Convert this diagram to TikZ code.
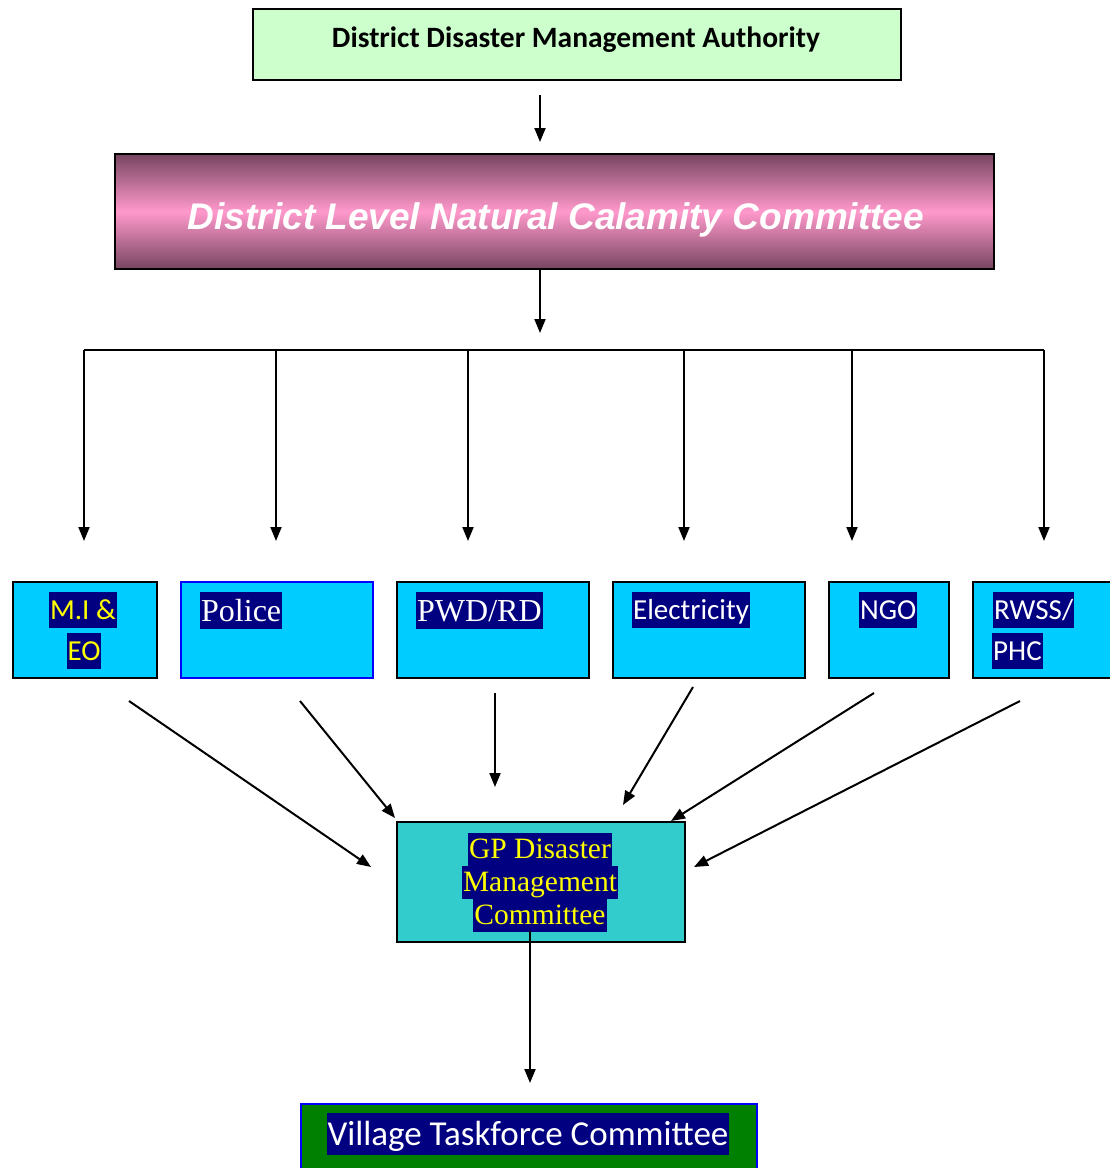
\documentclass[tikz,border=0pt]{standalone}
\usepackage{fontspec}
\setmainfont{Liberation Serif}
\newfontfamily\calfont{Carlito}
\newfontfamily\arialfont{Liberation Sans}
\usetikzlibrary{arrows.meta}
\definecolor{lightgreen}{HTML}{CCFFCC}
\definecolor{mauve}{HTML}{774560}
\definecolor{pinkmid}{HTML}{FF99CC}
\definecolor{cyanbox}{HTML}{00CCFF}
\definecolor{tealbox}{HTML}{33CCCC}
\definecolor{navyhl}{HTML}{000080}
\definecolor{greenbox}{HTML}{008000}
\definecolor{yellowtxt}{HTML}{FFFF00}
\begin{document}
\begin{tikzpicture}[x=1pt,y=-1pt,
  box/.style={draw=black, line width=2pt, anchor=north west, inner sep=0pt},
  arr/.style={-{Triangle[length=14pt,width=11pt]}, line width=2pt},
  plain/.style={line width=2pt},
  hlc/.style={fill=navyhl, inner xsep=1pt, inner ysep=0pt, text height=27pt, text depth=9pt,
    font=\calfont\fontsize{29}{34}\selectfont},
  hlt/.style={fill=navyhl, inner xsep=1pt, inner ysep=0pt, text height=29pt, text depth=8pt,
    font=\fontsize{32}{38}\selectfont, text=white},
  hlg/.style={fill=navyhl, inner xsep=1pt, inner ysep=0pt, text height=25pt, text depth=8pt,
    font=\fontsize{29.5}{34}\selectfont, text=yellowtxt},
]
\useasboundingbox (0,0) rectangle (1110,1168);

% top boxes
\node[box, fill=lightgreen, minimum width=648pt, minimum height=71pt] (ddma) at (252,8) {};
\node[font=\calfont\bfseries\fontsize{29.5}{34}\selectfont, inner sep=0pt] (ddmat) at (576,40) {District Disaster Management Authority};

\node[box, top color=mauve, bottom color=mauve, middle color=pinkmid, minimum width=879pt, minimum height=115pt] (dlncc) at (114,153) {};
\node[inner sep=0pt, text=white, font=\arialfont\bfseries\itshape\fontsize{37}{42}\selectfont] (dlncct) at (556,220) {District Level Natural Calamity Committee};

% department boxes
\node[box, fill=cyanbox, minimum width=144pt, minimum height=96pt] (mi) at (12,581) {};
\node[box, fill=cyanbox, draw=blue, minimum width=192pt, minimum height=96pt] (police) at (180,581) {};
\node[box, fill=cyanbox, minimum width=192pt, minimum height=96pt] (pwd) at (396,581) {};
\node[box, fill=cyanbox, minimum width=192pt, minimum height=96pt] (elec) at (612,581) {};
\node[box, fill=cyanbox, minimum width=120pt, minimum height=96pt] (ngo) at (828,581) {};
\node[box, fill=cyanbox, minimum width=142pt, minimum height=96pt] (rwss) at (972,581) {};

\node[hlc, text=yellowtxt, anchor=north] (mia) at (83,592) {M.I \&};
\node[hlc, text=yellowtxt, anchor=north] (mib) at (84,633) {EO};
\node[hlt, anchor=north west] (policet) at (200,592) {Police};
\node[hlt, anchor=north west] (pwdt) at (416,592) {PWD/RD};
\node[hlc, text=white, anchor=north west] (elect) at (632,592) {Electricity};
\node[hlc, text=white, anchor=north west] (ngot) at (859,592) {NGO};
\node[hlc, text=white, anchor=north west] (rwssa) at (993,592) {RWSS/};
\node[hlc, text=white, anchor=north west] (rwssb) at (992,633) {PHC};

% GP box
\node[box, fill=tealbox, minimum width=288pt, minimum height=120pt] (gp) at (396,821) {};
\node[hlg, anchor=north] (gpa) at (540,833) {GP Disaster};
\node[hlg, anchor=north] (gpb) at (540,866) {Management};
\node[hlg, anchor=north] (gpc) at (540,899) {Committee};

% Village box
\node[box, fill=greenbox, draw=blue, minimum width=456pt, minimum height=70pt] (vtc) at (300,1103) {};
\node[fill=navyhl, inner xsep=1pt, inner ysep=0pt, text height=32pt, text depth=10pt, text=white,
  font=\calfont\fontsize{35}{40}\selectfont, anchor=north] (vtct) at (528,1113) {Village Taskforce Committee};

% coordinates
\coordinate (a1s) at (540,95);   \coordinate (a1e) at (540,142);
\coordinate (a2s) at (540,268);  \coordinate (a2e) at (540,333);
\coordinate (busl) at (84,350);  \coordinate (busr) at (1044,350);
\foreach \x/\n in {84/1,276/2,468/3,684/4,852/5,1044/6}{
  \coordinate (d\n s) at (\x,350);
  \coordinate (d\n e) at (\x,541);
}
\coordinate (g1s) at (129,701);  \coordinate (g1e) at (371,867);
\coordinate (g2s) at (300,701);  \coordinate (g2e) at (395,818);
\coordinate (g3s) at (495,693);  \coordinate (g3e) at (495,787);
\coordinate (g4s) at (693,687);  \coordinate (g4e) at (623,805);
\coordinate (g5s) at (874,693);  \coordinate (g5e) at (671,821);
\coordinate (g6s) at (1020,701); \coordinate (g6e) at (694,867);
\coordinate (vs) at (530,931);   \coordinate (ve) at (530,1083);

% connectors
\draw[arr] (a1s) -- (a1e);
\draw[arr] (a2s) -- (a2e);
\draw[plain] (busl) -- (busr);
\foreach \n in {1,...,6}{\draw[arr] (d\n s) -- (d\n e);}
\foreach \n in {1,...,6}{\draw[arr] (g\n s) -- (g\n e);}
\draw[arr] (vs) -- (ve);
\end{tikzpicture}
\end{document}
